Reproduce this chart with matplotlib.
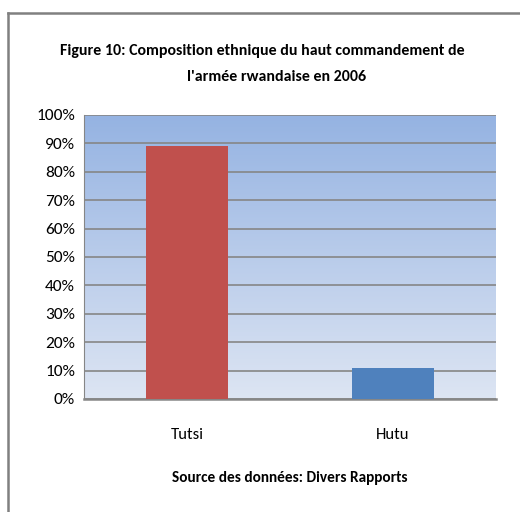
import numpy as np
import matplotlib
matplotlib.use("Agg")
import matplotlib.pyplot as plt
from matplotlib.lines import Line2D
from matplotlib.colors import LinearSegmentedColormap

categories = ["Tutsi", "Hutu"]
values = [89, 11]
bar_colors = ["#C0504D", "#4F81BD"]
yticks = list(range(0, 101, 10))
ytick_labels = [f"{v}%" for v in yticks]
title_lines = ["Figure 10: Composition ethnique du haut commandement de",
               "l'armée rwandaise en 2006"]
source = "Source des données: Divers Rapports"

plt.rcParams['font.family'] = ['Carlito', 'DejaVu Sans']

fig = plt.figure(figsize=(5.2, 5.12), dpi=100)
ax = fig.add_axes([84/520, 113/512, 412/520, 284/512])

# gradient background
cmap = LinearSegmentedColormap.from_list("bg", ["#DDE5F3", "#95B3E2"])
grad = np.linspace(0, 1, 256).reshape(-1, 1)
ax.imshow(grad, extent=[-0.5, 1.5, 0, 100], origin="lower", aspect="auto",
          cmap=cmap, zorder=0)

x = np.arange(len(categories))
ax.bar(x, values, width=0.4, color=bar_colors, zorder=3)

ax.set_xlim(-0.5, 1.5)
ax.set_ylim(0, 100)
ax.set_yticks(yticks)
ax.set_yticklabels(ytick_labels, fontsize=12.5)
ax.set_xticks(x)
ax.set_xticklabels(categories, fontsize=12)
ax.tick_params(axis='y', length=0, pad=6.5)
ax.tick_params(axis='x', length=0, pad=21)
ax.yaxis.grid(True, color="#868686", linewidth=1.2, zorder=1)
ax.set_axisbelow(True)
for s in ["top", "right"]:
    ax.spines[s].set_visible(False)
ax.spines["left"].set_color("#868686")
ax.spines["bottom"].set_color("#868686")
ax.spines["bottom"].set_linewidth(1.8)

fig.text(262/520, 1 - 51/512, title_lines[0], ha="center", va="center",
         fontsize=11.4, fontweight="bold")
fig.text(277/520, 1 - 77/512, title_lines[1], ha="center", va="center",
         fontsize=11.4, fontweight="bold")
fig.text(290/520, 1 - 478/512, source, ha="center", va="center",
         fontsize=11, fontweight="bold")

# outer frame (partial, cut off at right and bottom)
fig.add_artist(Line2D([8/520, 8/520], [0, 1 - 13/512], transform=fig.transFigure,
                      color="#808080", linewidth=1.8))
fig.add_artist(Line2D([8/520, 1], [1 - 13/512, 1 - 13/512], transform=fig.transFigure,
                      color="#808080", linewidth=1.8))

fig.savefig("out.png", dpi=100)
